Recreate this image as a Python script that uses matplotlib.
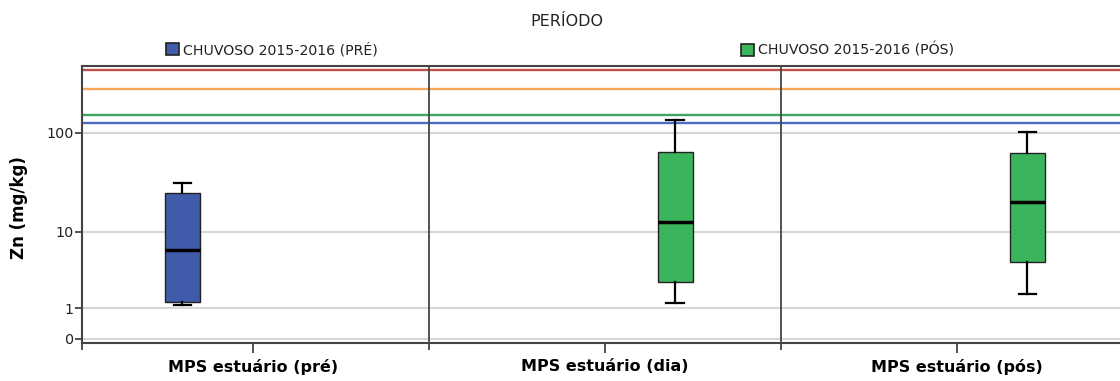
import numpy as np
import matplotlib
matplotlib.use("Agg")
import matplotlib.pyplot as plt
from matplotlib.patches import Patch

# ---- data ----
panels = ["MPS estuário (pré)", "MPS estuário (dia)", "MPS estuário (pós)"]
groups = ["CHUVOSO 2015-2016 (PRÉ)", "CHUVOSO 2015-2016 (PÓS)"]
group_colors = ["#3F5BAA", "#3BB55B"]
box_group = [0, 1, 1]          # which legend group each box belongs to
whislo = [1.14, 1.24, 1.76]
q1 = [1.31, 2.59, 4.6]
med = [6.3, 12.8, 20.5]
q3 = [25.5, 65.4, 63.5]
whishi = [31.7, 134.0, 102.0]
ref_values = [410, 271, 150, 124]
ref_colors = ["#C0504D", "#F9A65A", "#3DA561", "#4C6BC2"]
yticks = [0, 1, 10, 100]

plt.rcParams['font.family'] = ['DejaVu Sans']

fig = plt.figure(figsize=(11.2, 3.81), dpi=100)
W, H = 1120, 381
left_px, right_px, top_px, bot_px = 82, 1133, 65.7, 343.3
ax = fig.add_axes([left_px / W, 1 - bot_px / H, (right_px - left_px) / W, (bot_px - top_px) / H])

fwd = lambda v: np.log10(np.maximum(np.asarray(v, dtype=float), -0.999) + 1)
inv = lambda t: 10 ** np.asarray(t, dtype=float) - 1
ax.set_yscale('function', functions=(fwd, inv))
ax.set_ylim(-0.092, 455)
ax.set_xlim(-0.485, 2.5)

# gridlines
for yv in yticks:
    ax.axhline(yv, color="#D6D6D6", lw=1.5, zorder=0)

# reference lines
for rv, rc in zip(ref_values, ref_colors):
    ax.axhline(rv, color=rc, lw=1.7, zorder=1)

# panel dividers
for xv in [0.5, 1.5]:
    ax.axvline(xv, color="#444444", lw=1.3, zorder=1)

offsets = [-0.2, 0.2]
stats = []
positions = []
for i in range(3):
    stats.append(dict(med=med[i], q1=q1[i], q3=q3[i], whislo=whislo[i], whishi=whishi[i], fliers=[]))
    positions.append(i + offsets[box_group[i]])

bp = ax.bxp(stats, positions=positions, widths=0.1, patch_artist=True, showfliers=False,
            boxprops=dict(edgecolor="#222222", lw=1.0),
            medianprops=dict(color="black", lw=2.5),
            whiskerprops=dict(color="black", lw=1.6),
            capprops=dict(color="black", lw=1.6), capwidths=0.05, manage_ticks=False)
for patch, g in zip(bp['boxes'], box_group):
    patch.set_facecolor(group_colors[g])
for art in bp['boxes'] + bp['medians'] + bp['whiskers'] + bp['caps']:
    art.set_zorder(3)

ax.set_yticks(yticks)
ax.set_yticklabels([str(v) for v in yticks])
ax.yaxis.set_minor_locator(matplotlib.ticker.NullLocator())
ax.tick_params(axis='y', length=5, width=1.2, color="#333333", labelsize=10.3, pad=1, labelcolor="#222222")

ax.set_xticks([0, 1, 2])
ax.set_xticklabels(panels, fontsize=11.5, fontweight='bold')
ax.set_xticks([-0.485, 0.5, 1.5], minor=True)
ax.tick_params(axis='x', which='major', length=7, width=1.3, color="#444444", pad=4)
ax.tick_params(axis='x', which='minor', length=5, width=1.3, color="#444444")

for s in ['left', 'top', 'bottom']:
    ax.spines[s].set_color("#444444")
    ax.spines[s].set_linewidth(1.5)
ax.spines['right'].set_visible(False)

ax.set_ylabel("Zn (mg/kg)", fontsize=12, fontweight='bold')
ax.yaxis.set_label_coords(-54 / (right_px - left_px), 0.49)

fig.text(567 / W, 1 - 21 / H, "PERÍODO", ha='center', va='center', fontsize=11.5, color="#222222")

legx = [166, 741]
for k in range(2):
    leg = fig.legend(handles=[Patch(facecolor=group_colors[k], edgecolor="#222222", lw=1.2)],
                     labels=[groups[k]], loc='center left',
                     bbox_to_anchor=(legx[k] / W, 1 - 50 / H), frameon=False,
                     fontsize=10.2, handlelength=0.95, handleheight=0.95, handletextpad=0.25,
                     borderpad=0, borderaxespad=0)
    for t in leg.get_texts():
        t.set_color("#222222")

fig.savefig("out.png", dpi=100)
